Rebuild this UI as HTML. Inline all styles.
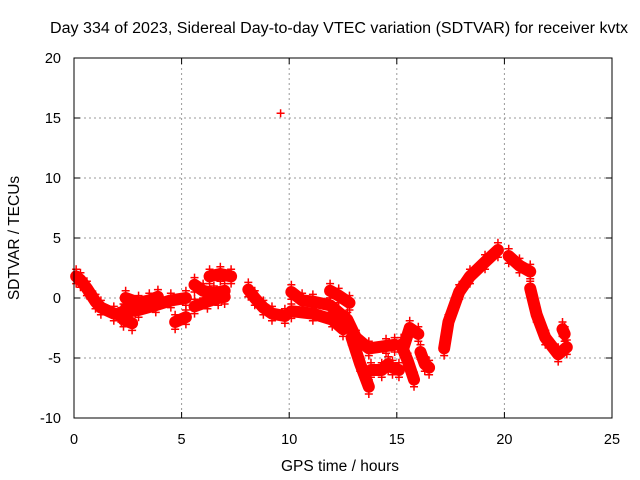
<!DOCTYPE html>
<html><head><meta charset="utf-8"><style>
body{margin:0;background:#fff}
svg{display:block;font-family:"Liberation Sans",sans-serif}
</style></head><body>
<svg id="chart" width="640" height="480">
<text x="50" y="33" textLength="578" lengthAdjust="spacingAndGlyphs" font-size="15.5">Day 334 of 2023, Sidereal Day-to-day VTEC variation (SDTVAR) for receiver kvtx</text>
<text x="340" y="471" text-anchor="middle" font-size="15.5">GPS time / hours</text>
<text transform="translate(19,238) rotate(-90)" text-anchor="middle" font-size="15.5">SDTVAR / TECUs</text>
<g id="grid"></g><g id="ticks"></g><g id="marks"></g>
<rect x="74" y="58" width="538" height="360" fill="none" stroke="#000" stroke-width="1"/>
</svg>
<script>
const xTicks=[0,5,10,15,20,25];
const yTicks=[-10,-5,0,5,10,15,20];
const trackA=[[0.1,1.8],[0.3,1.5],[0.6,0.8],[1.0,-0.3],[1.25,-0.8],[1.85,-1.3],[2.2,-1.4]];
const trackB=[[2.3,-1.1],[3.0,-1.0],[3.8,-0.6],[4.5,-0.2],[5.2,0]];
const trackB2=[[2.4,0],[3.0,-0.4],[3.5,-0.2],[3.9,0.1]];
const trackB3=[[2.3,-1.8],[2.7,-2.1]];
const trackB4=[[4.7,-2.0],[5.2,-1.6]];
const trackC=[[5.6,1.1],[6.0,0.6],[6.5,0.4],[7.0,0.6]];
const trackC2=[[5.6,-0.7],[6.2,-0.3],[6.7,0.0],[7.0,0.1]];
const trackC3=[[6.3,1.8],[6.8,2.0],[7.3,1.8]];
const trackD=[[8.1,0.7],[8.4,0.0],[8.8,-0.8],[9.2,-1.3],[9.8,-1.5]];
const trackE=[[10.1,0.5],[10.6,-0.2],[11.1,-0.3],[11.9,-0.6],[12.7,-1.8],[13.1,-3.3],[13.7,-4.2],[14.5,-4.0],[14.9,-3.9]];
const trackE2=[[10.1,-1.1],[11.1,-1.3],[12.0,-1.8],[12.5,-2.6]];
const trackE3=[[11.9,0.6],[12.3,0.2],[12.8,-0.4]];
const trackE4=[[12.9,-3.3],[13.3,-5.5],[13.7,-7.4]];
const trackE5=[[13.8,-6.0],[14.3,-6.0],[14.6,-5.5]];
const trackE6=[[14.8,-5.8],[15.1,-6.0]];
const trackF=[[15.2,-3.9],[15.5,-5.2],[15.8,-6.8]];
const trackF2=[[15.3,-4.2],[15.6,-2.5],[16.0,-3.0]];
const trackF3=[[16.1,-4.5],[16.3,-5.5],[16.5,-5.8]];
const trackG=[[17.2,-4.2],[17.4,-2.0],[17.9,0.5],[18.4,1.8],[19.1,3.0],[19.7,4.0]];
const trackH=[[20.2,3.5],[20.7,2.7],[21.2,2.2]];
const trackH2=[[21.2,0.8],[21.5,-1.4],[21.9,-3.3],[22.5,-4.7],[22.9,-4.1]];
const trackH3=[[22.7,-2.6],[22.8,-3.0]];
const outlier=[[9.6,15.4]];
const tracks=[trackA,trackB,trackB2,trackB3,trackB4,trackC,trackC2,trackC3,trackD,trackE,trackE2,trackE3,trackE4,trackE5,trackE6,trackF,trackF2,trackF3,trackG,trackH,trackH2,trackH3];

const X=h=>74+h*538/25, Y=v=>298-v*12;
const NS="http://www.w3.org/2000/svg";
const mk=(t,p,a)=>{const e=document.createElementNS(NS,t);for(const k in a)e.setAttribute(k,a[k]);p.appendChild(e);return e;};
const grid=document.getElementById('grid'),ticks=document.getElementById('ticks'),marks=document.getElementById('marks');
xTicks.forEach(t=>{
  if(t>0&&t<25){const g=mk('line',grid,{x1:X(t),x2:X(t),y1:58,y2:418,stroke:'#999','stroke-dasharray':'2,3'});
  
  }
  const l=mk('text',ticks,{x:X(t),y:444,'text-anchor':'middle','font-size':'14.5'});l.textContent=t;
  
  
  mk('line',ticks,{x1:X(t),x2:X(t),y1:418,y2:412,stroke:'#000'});
  mk('line',ticks,{x1:X(t),x2:X(t),y1:58,y2:64,stroke:'#000'});
});
yTicks.forEach(t=>{
  if(t>-10&&t<20){const g=mk('line',grid,{x1:74,x2:612,y1:Y(t),y2:Y(t),stroke:'#999','stroke-dasharray':'2,3'});
  
  }
  const l=mk('text',ticks,{x:61,y:Y(t)+5,'text-anchor':'end','font-size':'14.5'});l.textContent=t;
  
  
  mk('line',ticks,{x1:74,x2:80,y1:Y(t),y2:Y(t),stroke:'#000'});
  mk('line',ticks,{x1:612,x2:606,y1:Y(t),y2:Y(t),stroke:'#000'});
});
function plus(h,v){const x=X(h),y=Y(v);
  const p=mk('path',marks,{d:`M${x-4} ${y}H${x+4}M${x} ${y-4}V${y+4}`,stroke:'#f00','stroke-width':'1.5'});
  
  }
tracks.forEach(tr=>{
  const pl=mk('polyline',marks,{points:tr.map(p=>X(p[0])+','+Y(p[1])).join(' '),fill:'none',stroke:'#f00','stroke-width':'12','stroke-linejoin':'round','stroke-linecap':'round'});
  
  
  tr.forEach(p=>plus(p[0],p[1]+0.6));
  tr.forEach(p=>plus(p[0],p[1]-0.6));
});
outlier.forEach(p=>plus(p[0],p[1]));
</script>
</body></html>
